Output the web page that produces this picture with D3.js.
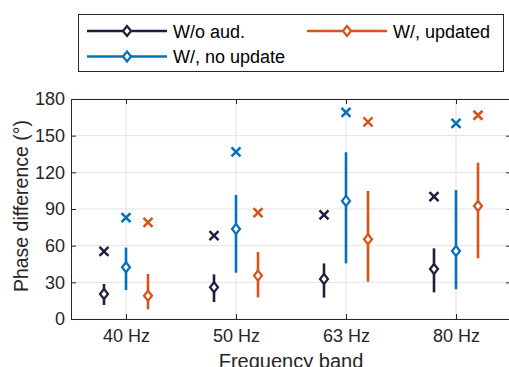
<!DOCTYPE html>
<html>
<head>
<meta charset="utf-8">
<script src="https://cdn.jsdelivr.net/npm/d3@7"></script>
<style>
body { margin: 0; background: #fff; }
svg { font-family: "Liberation Sans", Arial, sans-serif; }
</style>
</head>
<body>
<div id="chart"></div>
<script>
// datos
var bandas = ["40 Hz", "50 Hz", "63 Hz", "80 Hz"];
var series = ["W/o aud.", "W/, no update", "W/, updated"];
var colores = ["#1f1f3d", "#0072bd", "#d95319"];

// mediana (diamante) y rango de la barra, por serie
var mediana = [
  [20.5, 26, 32.7, 40.9],
  [42.3, 73.6, 96.6, 55.6],
  [19, 35.5, 65.2, 92.5]
];
var barraAlta = [
  [28.6, 36.5, 45.5, 57.8],
  [58.4, 101.5, 136.4, 105.5],
  [36.8, 54.8, 104.7, 127.9]
];
var barraBaja = [
  [11.5, 13.9, 17.5, 21.8],
  [23.7, 37.9, 45.5, 24.3],
  [7.9, 17.7, 30.5, 49.7]
];
// cruces (x)
var cruz = [
  [55.4, 68.2, 85.1, 100.1],
  [82.9, 136.7, 169.1, 160.1],
  [79.1, 87, 161.2, 166.7]
];
var yTicks = [0, 30, 60, 90, 120, 150, 180];

var width = 509, height = 367;
var margin = {top: 99, left: 71, right: -2, bottom: 48};
var desplaz = [-22, 0, 22];

var svg = d3.select("#chart").append("svg")
  .attr("width", width)
  .attr("height", height);

var escalaX = d3.scaleLinear()
  .domain([0.5, 4.5])
  .range([margin.left, width - margin.right]);

var escalaY = d3.scaleLinear()
  .domain([0, 180])
  .range([height - margin.bottom, margin.top]);

var x0 = escalaX.range()[0], x1 = escalaX.range()[1];
var y0 = escalaY.range()[0], y1 = escalaY.range()[1];

// rejilla
svg.append("g").selectAll("line.gy")
  .data(yTicks)
  .join("line")
  .attr("x1", x0).attr("x2", x1)
  .attr("y1", d => escalaY(d)).attr("y2", d => escalaY(d))
  .attr("stroke", "#e3e3e3").attr("stroke-width", 1);

svg.append("g").selectAll("line.gx")
  .data(bandas)
  .join("line")
  .attr("x1", (d, i) => escalaX(i + 1)).attr("x2", (d, i) => escalaX(i + 1))
  .attr("y1", y1).attr("y2", y0)
  .attr("stroke", "#e3e3e3").attr("stroke-width", 1);

// ejes
var ejeY = d3.axisLeft(escalaY).tickValues(yTicks).tickSizeInner(-5).tickSizeOuter(0).tickPadding(6);
var ejeYder = d3.axisRight(escalaY).tickValues(yTicks).tickSizeInner(-5).tickSizeOuter(0).tickFormat("");
var ejeX = d3.axisBottom(escalaX).tickValues([1, 2, 3, 4])
  .tickFormat(d => bandas[d - 1]).tickSizeInner(-5).tickSizeOuter(0).tickPadding(10);
var ejeXsup = d3.axisTop(escalaX).tickValues([1, 2, 3, 4]).tickSizeInner(-5).tickSizeOuter(0).tickFormat("");

svg.append("g").attr("transform", "translate(" + x0 + ",0)").call(ejeY);
svg.append("g").attr("transform", "translate(" + x1 + ",0)").call(ejeYder);
svg.append("g").attr("transform", "translate(0," + y0 + ")").call(ejeX);
svg.append("g").attr("transform", "translate(0," + y1 + ")").call(ejeXsup);

svg.selectAll(".domain").attr("stroke", "#262626").attr("stroke-width", 1);
svg.selectAll(".tick line").attr("stroke", "#262626");
svg.selectAll(".tick text").attr("fill", "#262626").style("font-size", "18px").style("font-family", "Liberation Sans, Arial, sans-serif");

// titulos de ejes
svg.append("text")
  .attr("x", 291)
  .attr("y", 368)
  .attr("text-anchor", "middle")
  .attr("fill", "#262626")
  .style("font-size", "20px")
  .text("Frequency band");

svg.append("text")
  .attr("transform", "translate(28,206) rotate(-90)")
  .attr("text-anchor", "middle")
  .attr("fill", "#262626")
  .style("font-size", "19.5px")
  .text("Phase difference (°)");

function diamante(g, cx, cy, color) {
  g.append("path")
    .attr("d", "M" + cx + "," + (cy - 5) + "L" + (cx + 4) + "," + cy + "L" + cx + "," + (cy + 5) + "L" + (cx - 4) + "," + cy + "Z")
    .attr("fill", "#fff")
    .attr("stroke", color)
    .attr("stroke-width", 2.2);
}

function equis(g, cx, cy, color) {
  var r = 4.5;
  g.append("path")
    .attr("d", "M" + (cx - r) + "," + (cy - r) + "L" + (cx + r) + "," + (cy + r) + "M" + (cx - r) + "," + (cy + r) + "L" + (cx + r) + "," + (cy - r))
    .attr("stroke", color)
    .attr("stroke-width", 2.5)
    .attr("fill", "none");
}

// marcas
series.forEach(function(s, k) {
  var g = svg.append("g");
  bandas.forEach(function(b, i) {
    var cx = escalaX(i + 1) + desplaz[k];
    g.append("line")
      .attr("x1", cx).attr("x2", cx)
      .attr("y1", escalaY(barraAlta[k][i])).attr("y2", escalaY(barraBaja[k][i]))
      .attr("stroke", colores[k]).attr("stroke-width", 2.6);
    diamante(g, cx, escalaY(mediana[k][i]), colores[k]);
    equis(g, cx, escalaY(cruz[k][i]), colores[k]);
  });
});

// leyenda
var leyenda = svg.append("g");
leyenda.append("rect")
  .attr("x", 78.5).attr("y", 14.5)
  .attr("width", 425).attr("height", 57)
  .attr("fill", "#fff").attr("stroke", "#262626").attr("stroke-width", 1);

var posLeyenda = [[87, 31], [87, 56.5], [307, 31]];
series.forEach(function(s, k) {
  var p = posLeyenda[k];
  leyenda.append("line")
    .attr("x1", p[0]).attr("x2", p[0] + 80)
    .attr("y1", p[1]).attr("y2", p[1])
    .attr("stroke", colores[k]).attr("stroke-width", 2.6);
  diamante(leyenda, p[0] + 40, p[1], colores[k]);
  leyenda.append("text")
    .attr("x", p[0] + 86).attr("y", p[1] + 6.5)
    .attr("fill", "#000")
    .style("font-size", "18px")
    .text(s);
});
</script>
</body>
</html>
